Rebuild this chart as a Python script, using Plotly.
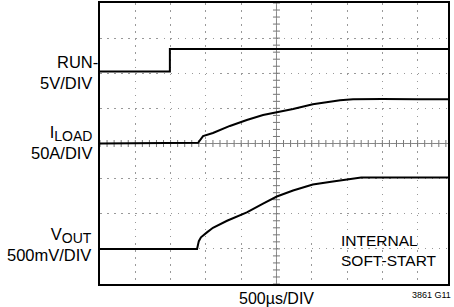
import plotly.graph_objects as go

# time axis in screen divisions (500us/DIV); signal values in screen divisions
run_t = [0.0, 1.98, 1.98, 9.86]
run_v = [6.05, 6.05, 6.69, 6.69]

iload_t = [0.0, 2.78, 2.92, 3.20, 3.68, 4.16, 4.62, 5.01, 5.47, 6.03, 6.23, 6.80, 7.17, 8.0, 9.0, 9.86]
iload_v = [4.00, 4.02, 4.21, 4.30, 4.50, 4.67, 4.81, 4.89, 4.98, 5.12, 5.15, 5.23, 5.26, 5.27, 5.26, 5.26]

vout_t = [0.0, 2.75, 2.80, 2.86, 3.03, 3.20, 3.60, 4.16, 4.62, 5.01, 5.47, 6.03, 6.60, 7.17, 7.40, 9.86]
vout_v = [1.00, 1.00, 1.22, 1.33, 1.47, 1.60, 1.80, 2.04, 2.29, 2.49, 2.66, 2.83, 2.92, 3.00, 3.03, 3.03]

X_MAX = 9.86
Y_MAX = 8
FONT = "Liberation Sans, Arial, sans-serif"

fig = go.Figure()

# center graticule ticks
tick_x = [i * 0.2 for i in range(int(X_MAX / 0.2) + 1)]
tick_y = [i * 0.2 for i in range(int(Y_MAX / 0.2) + 1)]
fig.add_trace(go.Scatter(x=tick_x, y=[4] * len(tick_x), mode="markers",
                         marker=dict(symbol="line-ns", size=5, line=dict(width=1, color="#777")),
                         hoverinfo="skip", showlegend=False))
fig.add_trace(go.Scatter(x=[5] * len(tick_y), y=tick_y, mode="markers",
                         marker=dict(symbol="line-ew", size=5, line=dict(width=1, color="#777")),
                         hoverinfo="skip", showlegend=False))

fig.add_shape(type="line", x0=0, x1=X_MAX, y0=4, y1=4, line=dict(color="#888", width=1), layer="below")
fig.add_shape(type="line", x0=5, x1=5, y0=0, y1=Y_MAX, line=dict(color="#888", width=1), layer="below")

for t, v in [(run_t, run_v), (iload_t, iload_v), (vout_t, vout_v)]:
    fig.add_trace(go.Scatter(x=t, y=v, mode="lines", line=dict(color="black", width=2),
                             hoverinfo="skip", showlegend=False))

ann_font = dict(family=FONT, size=16.5, color="black")
SUB = "<sub><span style='font-size:14px'>{}</span></sub>"
annos = [
    dict(text="RUN-", x=0, y=6.33, xanchor="right", xshift=0, align="right"),
    dict(text="5V/DIV", x=0, y=5.72, xanchor="right", xshift=-6, align="right"),
    dict(text="I" + SUB.format("LOAD") + "<br>50A/DIV", x=0, y=4.02, xanchor="right", xshift=-6, align="right"),
    dict(text="V" + SUB.format("OUT") + "<br>500mV/DIV", x=0, y=1.12, xanchor="right", xshift=-6, align="right"),
]
for a in annos:
    fig.add_annotation(xref="x", yref="y", yanchor="middle", showarrow=False,
                       font=ann_font, **a)

fig.add_annotation(text="INTERNAL<br>SOFT-START", x=6.76, y=0.95, xref="x", yref="y",
                   xanchor="left", yanchor="middle", align="left", showarrow=False,
                   font=dict(family=FONT, size=15.5, color="black"))

fig.add_annotation(text="500µs/DIV", xref="x", yref="paper", x=5, y=0, yanchor="top",
                   xanchor="center", yshift=-4, showarrow=False, font=dict(family=FONT, size=16, color="black"))
fig.add_annotation(text="3861 G11", xref="paper", yref="paper", x=1, y=0, yanchor="top",
                   xanchor="right", xshift=5, yshift=-4, showarrow=False,
                   font=dict(family=FONT, size=9, color="black"))

axis_common = dict(showticklabels=False, showline=True, linecolor="black", linewidth=1.5,
                   mirror=True, zeroline=False, showgrid=True, gridcolor="#999", gridwidth=1,
                   dtick=1, tick0=0, ticks="")
fig.update_xaxes(range=[0, X_MAX], griddash="1.5px,5.56px", **axis_common)
fig.update_yaxes(range=[0, Y_MAX], griddash="1.5px,5.56px", **axis_common)

fig.update_layout(width=454, height=307, margin=dict(l=100, r=6, t=1, b=23),
                  paper_bgcolor="white", plot_bgcolor="white", showlegend=False)

fig.write_html("out.html", config={"displayModeBar": False},
               post_script="document.body.style.margin='0';")
